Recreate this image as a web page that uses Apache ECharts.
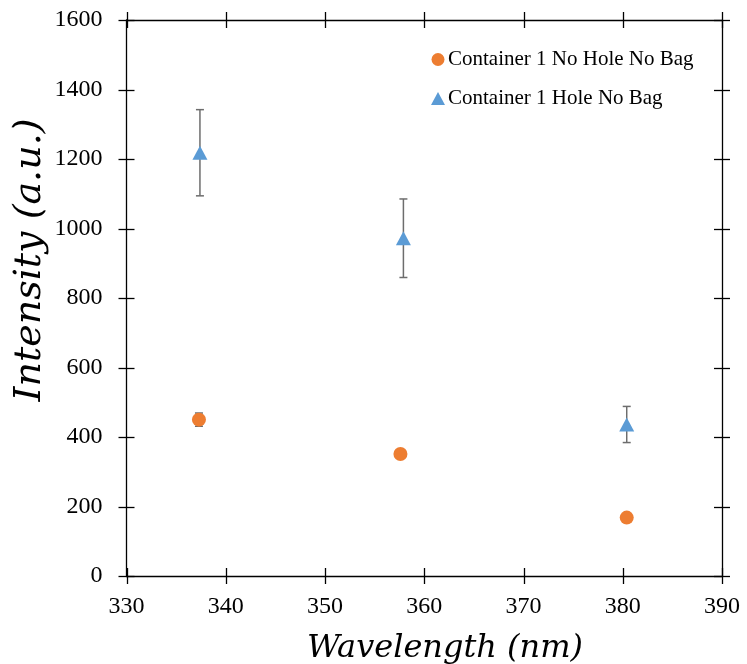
<!DOCTYPE html>
<html>
<head>
<meta charset="utf-8">
<script src="https://cdn.jsdelivr.net/npm/echarts@6/dist/echarts.min.js"></script>
<style>
  html, body { margin: 0; padding: 0; background: #fff; }
  #chart { width: 747px; height: 664px; }
</style>
</head>
<body>
<div id="chart"></div>
<script>
// Series data: wavelength (nm), intensity (a.u.), standard deviation
const noHoleWavelength = [337.3, 357.6, 380.4];
const noHoleIntensity = [450, 351, 168];
const noHoleError = [19, 4, 4];

const holeWavelength = [337.4, 357.9, 380.4];
const holeIntensity = [1218, 972, 436];
const holeError = [124, 113, 52];

// Tick values on the frame
const xTicks = [330, 340, 350, 360, 370, 380, 390];
const yTicks = [0, 200, 400, 600, 800, 1000, 1200, 1400, 1600];

const seriesNames = ['Container 1 No Hole No Bag', 'Container 1 Hole No Bag'];
const xTitle = 'Wavelength (nm)';
const yTitle = 'Intensity (a.u.)';

const ORANGE = '#ED7D31';
const BLUE = '#5B9BD5';
const BAR = '#6d6d6d';
const serif = '"Liberation Serif", "Times New Roman", serif';
const TICK = 8;

function points(xs, ys) { return xs.map((x, i) => [x, ys[i]]); }
function errRows(xs, ys, es) { return xs.map((x, i) => [x, ys[i] - es[i], ys[i] + es[i]]); }

function errorBarItem(params, api) {
  const x = api.value(0);
  const lo = api.coord([x, api.value(1)]);
  const hi = api.coord([x, api.value(2)]);
  const half = 4;
  const style = { stroke: BAR, lineWidth: 1.5 };
  return {
    type: 'group',
    children: [
      { type: 'line', shape: { x1: lo[0], y1: lo[1], x2: hi[0], y2: hi[1] }, style },
      { type: 'line', shape: { x1: hi[0] - half, y1: hi[1], x2: hi[0] + half, y2: hi[1] }, style },
      { type: 'line', shape: { x1: lo[0] - half, y1: lo[1], x2: lo[0] + half, y2: lo[1] }, style }
    ]
  };
}

// Tick marks that cross the frame on both opposite sides
const tickStyle = { stroke: '#000', lineWidth: 1.3 };
function xTickItem(params, api) {
  const cs = params.coordSys;
  const px = Math.round(api.coord([api.value(0), yTicks[0]])[0]) + 0.5;
  const yb = cs.y + cs.height, yt = cs.y;
  return {
    type: 'group',
    children: [
      { type: 'line', shape: { x1: px, y1: yb - TICK, x2: px, y2: yb + TICK }, style: tickStyle },
      { type: 'line', shape: { x1: px, y1: yt - TICK, x2: px, y2: yt + TICK }, style: tickStyle }
    ]
  };
}
function yTickItem(params, api) {
  const cs = params.coordSys;
  const py = Math.round(api.coord([xTicks[0], api.value(0)])[1]) + 0.5;
  const xl = cs.x, xr = cs.x + cs.width;
  return {
    type: 'group',
    children: [
      { type: 'line', shape: { x1: xl - TICK, y1: py, x2: xl + TICK, y2: py }, style: tickStyle },
      { type: 'line', shape: { x1: xr - TICK, y1: py, x2: xr + TICK, y2: py }, style: tickStyle }
    ]
  };
}

const axisLine = { show: true, onZero: false, lineStyle: { color: '#000', width: 1.3 } };
const plain = v => String(v);

const chart = echarts.init(document.getElementById('chart'), null, { renderer: 'canvas' });
chart.setOption({
  animation: false,
  backgroundColor: '#fff',
  grid: { left: 126.5, right: 25, top: 20, bottom: 88 },
  xAxis: [
    {
      type: 'value', min: 330, max: 390, interval: 10, position: 'bottom',
      axisLine, splitLine: { show: false }, axisTick: { show: false },
      axisLabel: { color: '#000', fontFamily: serif, fontSize: 24, margin: 19, formatter: plain }
    },
    {
      type: 'value', min: 330, max: 390, interval: 10, position: 'top',
      axisLine, splitLine: { show: false }, axisTick: { show: false }, axisLabel: { show: false }
    }
  ],
  yAxis: [
    {
      type: 'value', min: 0, max: 1600, interval: 200, position: 'left',
      axisLine, splitLine: { show: false }, axisTick: { show: false },
      axisLabel: { color: '#000', fontFamily: serif, fontSize: 24, margin: 24, formatter: plain }
    },
    {
      type: 'value', min: 0, max: 1600, interval: 200, position: 'right',
      axisLine, splitLine: { show: false }, axisTick: { show: false }, axisLabel: { show: false }
    }
  ],
  legend: {
    orient: 'vertical', left: 426, top: 44,
    itemWidth: 14, itemHeight: 13, itemGap: 18,
    textStyle: { fontFamily: serif, fontSize: 21, color: '#000', padding: [0, 0, 0, -2] },
    data: [
      { name: seriesNames[0], icon: 'circle' },
      { name: seriesNames[1], icon: 'triangle' }
    ]
  },
  graphic: [
    {
      type: 'text', x: 445, y: 649,
      style: {
        text: xTitle, align: 'center', verticalAlign: 'middle',
        font: 'italic 32px "DejaVu Serif", serif', fill: '#000'
      }
    },
    {
      type: 'text', x: 30, y: 260, rotation: Math.PI / 2,
      style: {
        text: yTitle, align: 'center', verticalAlign: 'middle',
        font: 'italic 38px "DejaVu Serif", serif', fill: '#000'
      }
    }
  ],
  series: [
    {
      type: 'custom', name: 'x-ticks', renderItem: xTickItem, z: 5, clip: false, silent: true,
      encode: { x: 0 }, data: xTicks.map(v => [v])
    },
    {
      type: 'custom', name: 'y-ticks', renderItem: yTickItem, z: 5, clip: false, silent: true,
      encode: { y: 0 }, data: yTicks.map(v => [v])
    },
    {
      type: 'custom', name: 'err-a', renderItem: errorBarItem, z: 1, silent: true,
      encode: { x: 0, y: [1, 2] }, data: errRows(noHoleWavelength, noHoleIntensity, noHoleError)
    },
    {
      type: 'custom', name: 'err-b', renderItem: errorBarItem, z: 1, silent: true,
      encode: { x: 0, y: [1, 2] }, data: errRows(holeWavelength, holeIntensity, holeError)
    },
    {
      type: 'scatter', name: seriesNames[0], symbol: 'circle', symbolSize: 14, z: 3,
      itemStyle: { color: ORANGE, opacity: 1 },
      data: points(noHoleWavelength, noHoleIntensity)
    },
    {
      type: 'scatter', name: seriesNames[1], symbol: 'triangle', symbolSize: [15, 14], z: 3,
      itemStyle: { color: BLUE, opacity: 1 },
      data: points(holeWavelength, holeIntensity)
    }
  ]
});
</script>
</body>
</html>
